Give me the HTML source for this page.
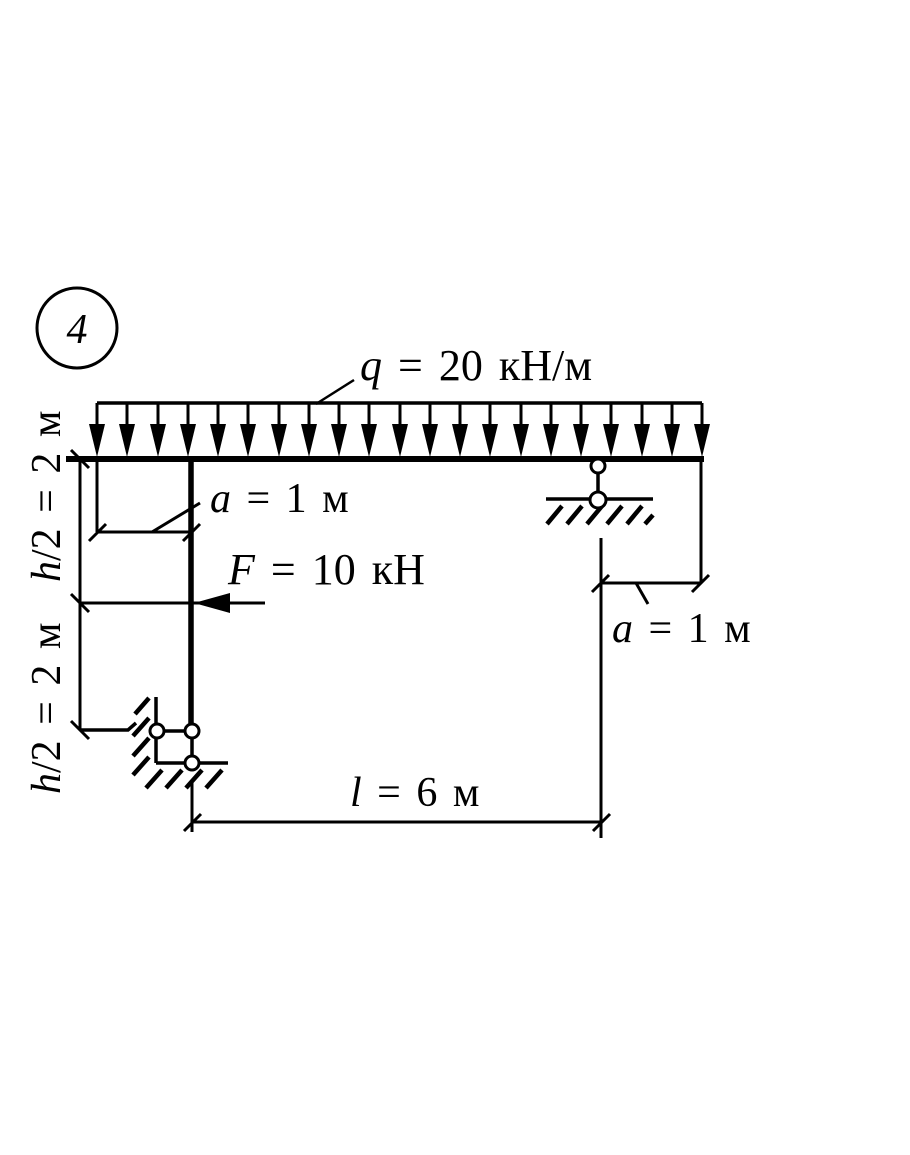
<!DOCTYPE html>
<html><head><meta charset="utf-8"><style>
html,body{margin:0;padding:0;background:#fff;}
svg{display:block;}
text{font-family:"Liberation Serif",serif;fill:#000;word-spacing:5px;}
</style></head><body>
<svg width="910" height="1155" viewBox="0 0 910 1155" xmlns="http://www.w3.org/2000/svg">
<defs>
<g id="ar"><line x1="0" y1="403" x2="0" y2="440" stroke="#000" stroke-width="3"/><path d="M-8,424 L8,424 L0,457 Z" fill="#000"/></g>
</defs>
<circle cx="77" cy="328" r="40" fill="none" stroke="#000" stroke-width="3"/>
<text x="77" y="343" font-size="42" font-style="italic" text-anchor="middle">4</text>
<line x1="97" y1="403" x2="702" y2="403" stroke="#000" stroke-width="3.5"/>
<use href="#ar" x="97"/><use href="#ar" x="127"/><use href="#ar" x="158"/><use href="#ar" x="188"/><use href="#ar" x="218"/><use href="#ar" x="248"/><use href="#ar" x="279"/><use href="#ar" x="309"/><use href="#ar" x="339"/><use href="#ar" x="369"/><use href="#ar" x="400"/><use href="#ar" x="430"/><use href="#ar" x="460"/><use href="#ar" x="490"/><use href="#ar" x="521"/><use href="#ar" x="551"/><use href="#ar" x="581"/><use href="#ar" x="611"/><use href="#ar" x="642"/><use href="#ar" x="672"/><use href="#ar" x="702"/>
<line x1="66" y1="459" x2="704" y2="459" stroke="#000" stroke-width="6"/>
<line x1="191" y1="459" x2="191" y2="727" stroke="#000" stroke-width="5.5"/>
<line x1="316" y1="404" x2="354" y2="380" stroke="#000" stroke-width="2.5"/>
<text x="360" y="380" font-size="44"><tspan font-style="italic">q</tspan> = 20 кН/м</text>
<g stroke="#000" stroke-width="3.5" fill="none">
<line x1="156" y1="697" x2="156" y2="763"/>
<line x1="156" y1="763" x2="228" y2="763"/>
<line x1="157" y1="731" x2="192" y2="731"/>
<line x1="192" y1="731" x2="192" y2="763"/>
<g stroke-width="4.5"><path d="M149,698 l-14,16 M149,718 l-16,18 M149,738 l-16,18 M149,757 l-16,18 M162,770 l-16,18 M182,770 l-16,18 M202,770 l-16,18 M222,770 l-16,18"/></g>
<path d="M80,730 L128,730 L136,723"/>
</g>
<g fill="#fff" stroke="#000" stroke-width="3">
<circle cx="157" cy="731" r="7"/><circle cx="192" cy="731" r="7"/><circle cx="192" cy="763" r="7"/>
</g>
<g stroke="#000" stroke-width="3.5" fill="none">
<line x1="598" y1="466" x2="598" y2="500"/>
<line x1="546" y1="499" x2="653" y2="499"/>
<g stroke-width="4.5"><path d="M562,506 l-15,18 M582,506 l-15,18 M602,506 l-15,18 M622,506 l-15,18 M642,506 l-15,18 M653,515 l-8,9"/></g>
</g>
<g fill="#fff" stroke="#000" stroke-width="3">
<circle cx="598" cy="466" r="7"/><circle cx="598" cy="500" r="8"/>
</g>
<line x1="80" y1="603" x2="265" y2="603" stroke="#000" stroke-width="3"/>
<path d="M194,603 L230,593 L230,613 Z" fill="#000"/>
<text x="228" y="584" font-size="44"><tspan font-style="italic">F</tspan> = 10 кН</text>
<g stroke="#000" stroke-width="3" fill="none">
<line x1="80" y1="459" x2="80" y2="730"/>
<path d="M71,450 l18,18 M71,594 l18,18 M71,721 l18,18"/>
<line x1="97" y1="459" x2="97" y2="532"/>
<line x1="97" y1="532" x2="191" y2="532"/>
<path d="M89,541 l17,-17 M183,541 l17,-17"/>
<line x1="152" y1="532" x2="200" y2="503"/>
</g>
<text x="210" y="512" font-size="42"><tspan font-style="italic">a</tspan> = 1 м</text>
<text transform="translate(60,582) rotate(-90)" font-size="42"><tspan font-style="italic">h</tspan>/2 = 2 м</text>
<text transform="translate(60,794) rotate(-90)" font-size="42"><tspan font-style="italic">h</tspan>/2 = 2 м</text>
<g stroke="#000" stroke-width="3" fill="none">
<line x1="701" y1="459" x2="701" y2="583"/>
<line x1="601" y1="538" x2="601" y2="838"/>
<line x1="601" y1="583" x2="701" y2="583"/>
<path d="M592,592 l17,-17 M692,592 l17,-17"/>
<line x1="636" y1="583" x2="648" y2="604"/>
<line x1="192" y1="780" x2="192" y2="832"/>
<line x1="192" y1="822" x2="601" y2="822"/>
<path d="M184,831 l17,-17 M593,831 l17,-17"/>
</g>
<text x="612" y="642" font-size="42"><tspan font-style="italic">a</tspan> = 1 м</text>
<text x="350" y="806" font-size="42"><tspan font-style="italic">l</tspan> = 6 м</text>
</svg>
</body></html>
